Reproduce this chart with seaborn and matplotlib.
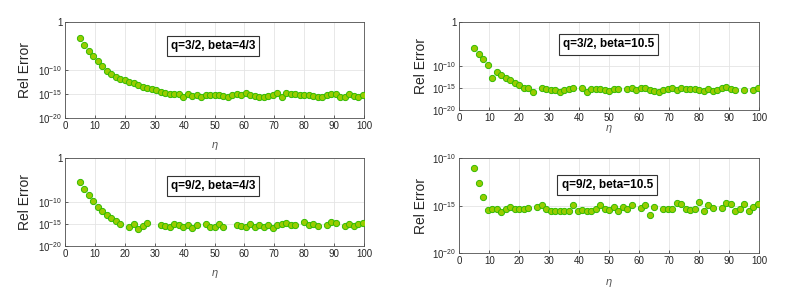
import numpy as np
import pandas as pd
import matplotlib
matplotlib.use("Agg")
import matplotlib.pyplot as plt
import seaborn as sns

sns.set_style("ticks")
plt.rcParams['font.family'] = ['Liberation Sans', 'DejaVu Sans']
plt.rcParams['mathtext.fontset'] = 'custom'
plt.rcParams['mathtext.rm'] = 'Liberation Sans'
plt.rcParams['mathtext.it'] = 'Liberation Sans:italic'

# eta grid
eta = [5, 6.5, 8, 9.5, 11, 12.5, 14, 15.5, 17, 18.5, 20, 21.5, 23, 24.5, 26, 27.5,
       29, 30.5, 32, 33.5, 35, 36.5, 38, 39.5, 41, 42.5, 44, 45.5, 47, 48.5, 50, 51.5,
       53, 54.5, 56, 57.5, 59, 60.5, 62, 63.5, 65, 66.5, 68, 69.5, 71, 72.5, 74, 75.5,
       77, 78.5, 80, 81.5, 83, 84.5, 86, 87.5, 89, 90.5, 92, 93.5, 95, 96.5, 98, 99.5]

nan = np.nan
# log10 of relative error (nan = not plotted)
log_err_q32_b43 = [-3.3, -4.7, -6.0, -7.1, -8.1, -9.2, -10.2, -10.9, -11.5, -11.8, -12.1,
                   -12.5, -12.8, -13.2, -13.5, -13.7, -14.0, -14.2, -14.5, -14.8, -14.95,
                   -14.9, -15.0, -15.6, -15.1, -15.45, -15.25, -15.7, -15.2, -15.3, -15.3,
                   -15.2, -15.4, -15.67, -15.13, -15.07, -15.27, -14.87, -15.2, -15.33,
                   -15.53, -15.53, -15.47, -15.27, -14.87, -15.6, -14.8, -15.07, -14.93,
                   -15.13, -15.13, -15.27, -15.33, -15.6, -15.6, -15.13, -15.07, -15.07,
                   -15.53, -15.6, -15.0, -15.33, -15.53, -15.2]
log_err_q32_b105 = [-6.06, -7.35, -8.56, -9.92, -12.65, -11.44, -12.05, -12.65, -13.26,
                    -13.79, -14.39, -14.92, -15.08, -15.83, nan, -14.92, -15.3, -15.38,
                    -15.53, -15.98, -15.38, -15.23, -15.0, nan, -15.08, -15.9, -15.23,
                    -15.3, -15.23, -15.38, -15.68, -15.3, -15.15, nan, -15.23, -14.92,
                    -15.53, -15.08, -15.08, -15.53, -15.6, -15.98, -15.53, -15.3, -14.92,
                    -15.38, -15.0, -15.15, -15.23, -15.23, -15.38, -15.68, -15.3, -15.6,
                    -15.53, -15.08, -14.77, -15.15, -15.53, nan, -15.38, nan, -15.53, -15.0]
log_err_q92_b43 = [-5.45, -7.05, -8.4, -9.85, -11.04, -12.0, -12.99, -13.58, -14.4, -15.07,
                   nan, -15.68, -15.08, -16.05, -15.53, -14.7, nan, nan, -15.15, -15.53,
                   -15.68, -14.92, -15.23, -15.68, -15.3, -15.98, -15.23, nan, -14.92,
                   -15.68, -15.68, -14.92, -15.68, nan, nan, -15.23, -15.53, -15.68,
                   -15.08, -15.6, -15.15, -15.6, -15.23, -15.98, -15.15, -15.0, -14.77,
                   -15.23, -15.3, nan, -14.62, -15.3, -15.08, -15.38, nan, -15.23, -14.62,
                   -14.77, nan, -15.38, -14.92, -15.38, -14.92, -14.77]
log_err_q92_b105 = [-10.98, -12.6, -14.04, -15.47, -15.3, -15.33, -15.61, -15.3, -15.12,
                    -15.3, -15.3, -15.3, -15.23, nan, -15.12, -14.88, -15.3, -15.58,
                    -15.58, -15.58, -15.58, -15.58, -14.91, -15.58, -15.44, -15.54, -15.54,
                    -15.3, -14.88, -15.3, -15.44, -15.16, -15.58, -15.12, -15.3, -14.95,
                    nan, -15.19, -14.95, -16.0, -15.09, nan, -15.3, -15.3, -15.3, -14.7,
                    -14.81, -15.3, -15.44, -15.3, -14.63, -15.58, -14.95, -15.19, nan,
                    -15.19, -14.74, -14.84, -15.58, -15.3, -14.84, -15.58, -15.09, -14.81]

titles = ["q=3/2, beta=4/3", "q=3/2, beta=10.5", "q=9/2, beta=4/3", "q=9/2, beta=10.5"]

fig = plt.figure(figsize=(7.9, 2.89), dpi=100)
positions = [[0.0823, 0.5917, 0.3785, 0.3322],
             [0.5814, 0.6194, 0.3797, 0.3055],
             [0.0823, 0.1488, 0.3785, 0.3035],
             [0.5814, 0.1235, 0.3797, 0.3287]]
series = [log_err_q32_b43, log_err_q32_b105, log_err_q92_b43, log_err_q92_b105]
box_pos = [(0.495, 0.75), (0.497, 0.742), (0.495, 0.684), (0.493, 0.719)]
xlab_y = [-0.23, -0.15, -0.25, -0.25]
ylab_x = [-0.11, -0.104, -0.11, -0.104]

face = '#99cc00'
edge = '#33bb00'
txt = '#262626'

for k in range(4):
    ax = fig.add_axes(positions[k])
    df = pd.DataFrame({'eta': eta, 'err': 10.0 ** np.array(series[k])}).dropna()
    sns.scatterplot(data=df, x='eta', y='err', ax=ax, s=20, color=face,
                    edgecolor=edge, linewidth=0.7, zorder=3)
    ax.set_yscale('log')
    ax.set_xlim(0, 100)
    if k == 3:
        ax.set_ylim(1e-20, 1e-10)
        ax.set_yticks([1e-20, 1e-15, 1e-10])
        ax.set_yticklabels(['$10^{-20}$', '$10^{-15}$', '$10^{-10}$'])
    else:
        ax.set_ylim(1e-20, 1)
        ax.set_yticks([1e-20, 1e-15, 1e-10, 1])
        ax.set_yticklabels(['$10^{-20}$', '$10^{-15}$', '$10^{-10}$', '1'])
    ax.minorticks_off()
    ax.set_xticks(range(0, 101, 10))
    ax.tick_params(direction='in', length=2, width=0.5, labelsize=7,
                   colors=txt, pad=2)
    ax.grid(True, color='#e4e4e4', linewidth=0.6)
    ax.set_axisbelow(True)
    for sp in ax.spines.values():
        sp.set_visible(True)
        sp.set_color('#505050')
        sp.set_linewidth(0.6)
    ax.set_ylabel('Rel Error', fontsize=10, color=txt)
    ax.yaxis.set_label_coords(ylab_x[k], 0.5)
    ax.set_xlabel('$\\eta$', fontsize=8, color='#555555')
    ax.xaxis.set_label_coords(0.5, xlab_y[k])
    ax.text(box_pos[k][0], box_pos[k][1], titles[k], transform=ax.transAxes,
            ha='center', va='center', fontsize=8.5, fontweight='bold', color='black',
            bbox=dict(boxstyle='square,pad=0.35', fc='white', ec='#333333', lw=0.8),
            zorder=5)

fig.savefig('out.png', dpi=100)
